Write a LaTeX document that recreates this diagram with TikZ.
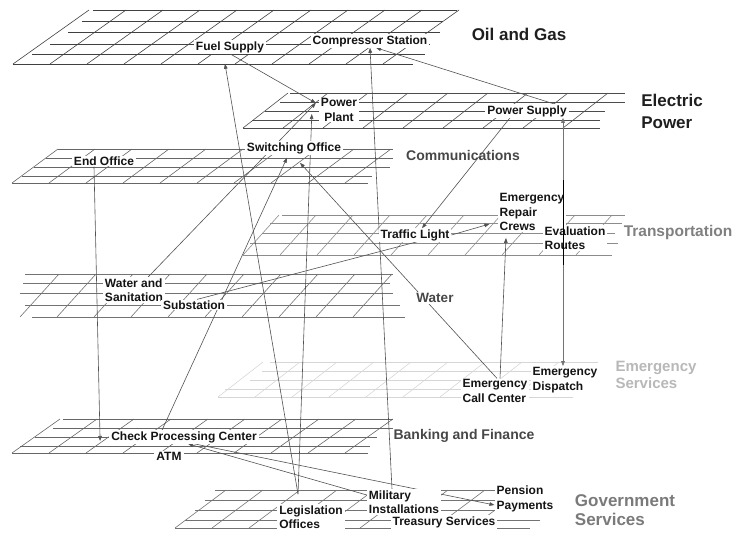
\documentclass[tikz,border=0pt]{standalone}
\usepackage{fontspec}
\setmainfont{Liberation Sans}
\usetikzlibrary{arrows.meta,calc}
\pgfdeclarelayer{bg}
\pgfdeclarelayer{links}
\pgfsetlayers{bg,links,main}
\begin{document}
\begin{tikzpicture}[x=1pt,y=-1pt,
  lbl/.style={font=\fontsize{12}{14.5}\selectfont\bfseries, text=black!92, fill=white, inner xsep=2pt, inner ysep=1pt, align=left},
  hd/.style={inner sep=0pt, align=left},
  gridl/.style={line width=0.6pt},
  arr/.style={draw=black!68, line width=0.6pt, -{Triangle[length=5pt,width=3.6pt]}},
  arrb/.style={draw=black!55, line width=0.7pt, {Triangle[length=5pt,width=3.6pt]}-{Triangle[length=5pt,width=3.6pt]}},
  link/.style={draw=black!68, line width=0.6pt}]
\useasboundingbox (0,0) rectangle (740,533);

% ---------------- labels ----------------
\node[lbl] (fuel) at (230,47) {Fuel Supply};
\node[lbl] (comp) at (370,41) {Compressor Station};
\node[lbl, align=center] (plant) at (339,110) {Power\\Plant};
\node[lbl] (psup) at (527,111) {Power Supply};
\node[lbl] (switch) at (294,148) {Switching Office};
\node[lbl] (endoff) at (104,161) {End Office};
\node[lbl] (traffic) at (415,235) {Traffic Light};
\node[lbl] (repair) at (532,212) {Emergency\\Repair\\Crews};
\node[lbl] (evac) at (575,238) {Evaluation\\Routes};
\node[lbl] (wsan) at (134,290) {Water and\\Sanitation};
\node[lbl] (subst) at (194,305) {Substation};
\node[lbl] (callc) at (495,391) {Emergency\\Call Center};
\node[lbl] (disp) at (565,380) {Emergency\\Dispatch};
\node[lbl] (cpc) at (184,437) {Check Processing Center};
\node[lbl] (atm) at (169,456) {ATM};
\node[lbl] (legis) at (311,517) {Legislation\\Offices};
\node[lbl] (milit) at (404,502) {Military\\Installations};
\node[lbl] (pension) at (525,499) {Pension\\Payments};
\node[lbl] (treas) at (444,522) {Treasury Services};

% ---------------- sector headings ----------------
\node[hd, font=\fontsize{17}{20}\selectfont\bfseries, text=black!88] (hoil) at (519,34) {Oil and Gas};
\node[hd, font=\fontsize{17}{22}\selectfont\bfseries, text=black!88] (helec) at (672,111) {Electric\\Power};
\node[hd, font=\fontsize{14}{17}\selectfont\bfseries, text=black!72] (hcomm) at (463,155) {Communications};
\node[hd, font=\fontsize{15.5}{18}\selectfont\bfseries, text=black!50] (htrans) at (678,232) {Transportation};
\node[hd, font=\fontsize{13.5}{16}\selectfont\bfseries, text=black!72, fill=white, inner sep=1pt] (hwater) at (435,298) {Water};
\node[hd, font=\fontsize{15}{16.5}\selectfont\bfseries, text=black!28] (hemerg) at (656,375) {Emergency\\Services};
\node[hd, font=\fontsize{14}{17}\selectfont\bfseries, text=black!72] (hbank) at (464,436) {Banking and Finance};
\node[hd, font=\fontsize{17}{19.5}\selectfont\bfseries, text=black!52] (hgov) at (625,510) {Government\\Services};

% ---------------- sector planes ----------------
\begin{pgfonlayer}{bg}
\begin{scope}[gridl, draw=black!75]
  \foreach \y/\a/\b in {10/93/457, 21/82/443, 32/68/440, 44/50/430, 54/32/425, 64/13/413} \draw (\a,\y) -- (\b,\y);
  \foreach \x in {13,50,...,390} \draw (\x,64) -- ++(76,-54);
\end{scope}
\begin{scope}[gridl, draw=black!70]
  \foreach \y/\a/\b in {93/290/625, 102/280/625, 111/265/605, 120/252/600, 128/243/600} \draw (\a,\y) -- (\b,\y);
  \foreach \x in {243,283,...,570} \draw (\x,128) -- ++(45,-35);
\end{scope}
\begin{scope}[gridl, draw=black!60]
  \foreach \y/\a/\b in {149/58/393, 158/46/393, 167/34/390, 176/22/372, 183/12/368} \draw (\a,\y) -- (\b,\y);
  \foreach \x in {12,49,...,350} \draw (\x,183) -- ++(46,-34);
\end{scope}
\begin{scope}[gridl, draw=black!45]
  \foreach \y/\a/\b in {215/282/625, 223/270/622, 233/262/615, 243/250/618, 255/243/612} \draw (\a,\y) -- (\b,\y);
  \foreach \x in {243,280,...,590} \draw (\x,255) -- ++(36,-40);
\end{scope}
\begin{scope}[gridl, draw=black!55]
  \foreach \y/\a/\b in {274/25/393, 283/23/390, 293/20/393, 305/25/400, 317/32/405} \draw (\a,\y) -- (\b,\y);
  \foreach \x in {20,57,...,370} \draw (\x,317) -- ++(39,-43);
\end{scope}
\begin{scope}[gridl, draw=black!16]
  \foreach \y/\a/\b in {362/270/598, 371/262/598, 380/250/590, 389/225/580, 397/218/573} \draw (\a,\y) -- (\b,\y);
  \foreach \x in {218,255,...,550} \draw (\x,397) -- ++(45,-35);
\end{scope}
\begin{scope}[gridl, draw=black!60]
  \foreach \y/\a/\b in {419/63/393, 428/53/393, 437/35/377, 446/20/370, 453/12/368} \draw (\a,\y) -- (\b,\y);
  \foreach \x in {12,49,...,345} \draw (\x,453) -- ++(48,-34);
\end{scope}
\begin{scope}[gridl, draw=black!55]
  \foreach \y/\a/\b in {490/215/555, 500/205/555, 510/195/545, 520/185/540, 528/175/530} \draw (\a,\y) -- (\b,\y);
  \foreach \x in {175,212,...,500} \draw (\x,528) -- ++(51,-38);
\end{scope}
\end{pgfonlayer}

% ---------------- dependencies ----------------
\coordinate (legp) at ([xshift=-13pt,yshift=10pt]legis.north);
\begin{pgfonlayer}{links}
\draw[arr] (fuel.south) -- ([xshift=-3pt,yshift=7pt]plant.west);
\draw[arr] (legp) -- ([xshift=-5pt,yshift=-10pt]fuel.south);
\draw[arr] (legp) -- ([xshift=-7pt,yshift=-4pt]plant.west);
\draw[arr] ([xshift=-12pt]milit.north) -- (comp.south);
\draw[arr] ([xshift=28pt]psup.north) -- ([xshift=6pt]comp.south);
\draw[arrb] ([xshift=36pt]psup.south) -- ([xshift=36pt]psup.south |- disp.north);
\draw[arr] ([xshift=-17pt]psup.south) -- ([xshift=7pt]traffic.north);
\draw[arr] (traffic.east) -- ([xshift=-8pt,yshift=-12pt]repair.west);
\draw[arr] ([xshift=5pt]callc.north) -- ([xshift=-26pt,yshift=-6pt]repair.south);
\draw[arr] ([xshift=2pt]callc.north) -- ([xshift=6pt,yshift=-8pt]switch.south);
\draw[arr] ([xshift=14pt]wsan.north) -- ([xshift=-3pt,yshift=7pt]plant.west);
\draw[arr] ([xshift=-22pt]cpc.north) -- ([xshift=-7pt,yshift=-3pt]switch.south);
\draw[arr] ([xshift=-10pt]endoff.south) -- ([xshift=-9pt,yshift=-4pt]cpc.west);
\draw[link] ([xshift=3pt]subst.north) -- ([xshift=2pt]traffic.south);
\draw[arr] ([yshift=7pt]milit.west) -- ([xshift=4pt]cpc.south);
\draw[arr] ([xshift=10pt]cpc.south) -- ([yshift=-6pt]pension.west);
\end{pgfonlayer}
\draw[line width=0.9pt, black] ([xshift=36pt,yshift=-62pt]psup.south) -- ++(0,85);
\end{tikzpicture}
\end{document}
